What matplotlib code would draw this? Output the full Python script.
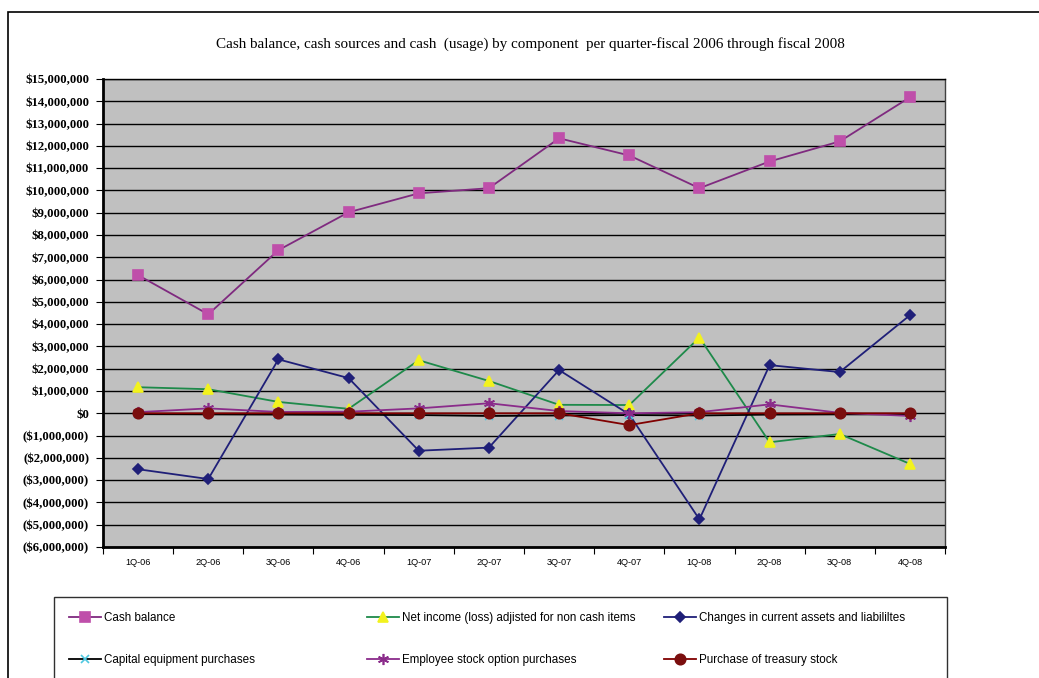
"""
Quarterly cash balance and cash sources / usage by component, fiscal 2006-2008.
"""

import matplotlib
matplotlib.use("Agg")
import matplotlib.pyplot as plt
from matplotlib.patches import Rectangle
from matplotlib.ticker import FixedLocator, FuncFormatter, NullFormatter


QUARTERS = ["1Q-06", "2Q-06", "3Q-06", "4Q-06", "1Q-07", "2Q-07",
            "3Q-07", "4Q-07", "1Q-08", "2Q-08", "3Q-08", "4Q-08"]

CASH_BALANCE = [6.20e6, 4.44e6, 7.32e6, 9.02e6, 9.87e6, 10.10e6,
                12.34e6, 11.57e6, 10.10e6, 11.30e6, 12.20e6, 14.18e6]
NET_INCOME = [1.17e6, 1.08e6, 0.51e6, 0.20e6, 2.38e6, 1.45e6,
              0.38e6, 0.37e6, 3.40e6, -1.30e6, -0.93e6, -2.27e6]
CURRENT_ASSETS_LIAB = [-2.51e6, -2.95e6, 2.42e6, 1.58e6, -1.68e6, -1.54e6,
                       1.94e6, -0.05e6, -4.76e6, 2.16e6, 1.85e6, 4.40e6]
CAPITAL_EQUIPMENT = [-0.04e6, -0.05e6, -0.06e6, -0.07e6, -0.08e6, -0.12e6,
                     -0.10e6, -0.08e6, -0.10e6, -0.06e6, -0.05e6, -0.05e6]
EMPLOYEE_OPTIONS = [0.05e6, 0.22e6, 0.06e6, 0.07e6, 0.22e6, 0.45e6,
                    0.10e6, 0.00e6, 0.05e6, 0.40e6, 0.02e6, -0.12e6]
TREASURY_STOCK = [0.0, 0.0, 0.0, 0.0, 0.0, 0.0,
                  0.0, -0.53e6, 0.0, 0.0, 0.0, 0.0]

TITLE = ("Cash balance, cash sources and cash  (usage) by component  "
         "per quarter-fiscal 2006 through fiscal 2008")

W, H = 1039, 678

# label, values, line colour, marker, marker face, marker edge, marker size
SERIES = [
    ("Cash balance", CASH_BALANCE, "#7F2A7F", "s", "#BF4FAA", "#BF4FAA", 7.5),
    ("Net income (loss) adjisted for non cash items", NET_INCOME, "#1E8A4A", "^", "#F2F21E", "#F2F21E", 7.5),
    ("Changes in current assets and liabililtes", CURRENT_ASSETS_LIAB, "#1F1F78", "D", "#1F1F78", "#1F1F78", 5.5),
    ("Capital equipment purchases", CAPITAL_EQUIPMENT, "#000000", "x", "#4FC8E0", "#4FC8E0", 6),
    ("Employee stock option purchases", EMPLOYEE_OPTIONS, "#8A2B8A", (6, 2, 0), "#8A2B8A", "#8A2B8A", 8),
    ("Purchase of treasury stock", TREASURY_STOCK, "#800000", "o", "#7A0E0E", "#7A0E0E", 7.5),
]


def money(v, _pos=None):
    if v < 0:
        return f"(${-v:,.0f})"
    return f"${v:,.0f}"


def px_x(x):
    return x / W


def px_y(y):
    return 1 - y / H


def main() -> None:
    fig = plt.figure(figsize=(W / 100, H / 100), dpi=100)
    fig.patch.set_facecolor("white")

    # outer chart frame, running off the right and bottom edges
    fig.patches.append(Rectangle((px_x(8), px_y(700)), px_x(1060), px_y(12) - px_y(700),
                                 transform=fig.transFigure, fill=False,
                                 edgecolor="black", linewidth=1.2))

    ax = fig.add_axes([px_x(103), px_y(547), px_x(945 - 103), px_y(79) - px_y(547)])
    ax.set_facecolor("#C0C0C0")

    xs = list(range(len(QUARTERS)))
    for label, vals, color, marker, mfc, mec, ms in SERIES:
        ax.plot(xs, vals, color=color, linewidth=1.3, marker=marker,
                markerfacecolor=mfc, markeredgecolor=mec, markersize=ms,
                markeredgewidth=1.2, label=label, zorder=3)

    ax.set_xlim(-0.5, len(QUARTERS) - 0.5)
    ax.set_ylim(-6e6, 15e6)

    ax.yaxis.set_major_locator(FixedLocator([i * 1e6 for i in range(-6, 16)]))
    ax.yaxis.set_major_formatter(FuncFormatter(money))
    ax.grid(True, axis="y", color="black", linewidth=1.0, zorder=1)
    ax.set_axisbelow(True)

    ax.xaxis.set_major_locator(FixedLocator([i - 0.5 for i in range(len(QUARTERS) + 1)]))
    ax.xaxis.set_major_formatter(NullFormatter())
    ax.xaxis.set_minor_locator(FixedLocator(xs))
    ax.set_xticklabels(QUARTERS, minor=True)
    ax.tick_params(axis="x", which="minor", length=0, pad=8, labelsize=6.6)
    ax.tick_params(axis="x", which="major", length=5, width=0.8, direction="out")
    ax.tick_params(axis="y", length=5, width=0.8, direction="out", pad=5)
    for lbl in ax.get_yticklabels():
        lbl.set_fontfamily("Liberation Serif")
        lbl.set_fontweight("bold")
        lbl.set_fontsize(9.2)
    for lbl in ax.get_xticklabels(minor=True):
        lbl.set_fontfamily("Liberation Sans")

    ax.spines["left"].set_linewidth(2.0)
    ax.spines["bottom"].set_linewidth(2.0)
    ax.spines["top"].set_linewidth(1.0)
    ax.spines["right"].set_linewidth(1.0)
    ax.spines["right"].set_color("#404040")

    fig.text(px_x(530), px_y(44), TITLE, ha="center", va="center",
             fontsize=10.9, family="Liberation Serif")

    # legend box below the plot, three columns of two entries each
    fig.patches.append(Rectangle((px_x(54), px_y(700)), px_x(947 - 54), px_y(597) - px_y(700),
                                 transform=fig.transFigure, fill=False,
                                 edgecolor="#303030", linewidth=1.0))
    handles = ax.get_lines()
    col_x = [64, 362, 659]
    for c, x0 in enumerate(col_x):
        pair = [handles[c], handles[c + 3]]
        fig.legend(pair, [h.get_label() for h in pair], loc="upper left",
                   bbox_to_anchor=(px_x(x0), px_y(607)), frameon=False,
                   prop={"family": "Liberation Sans", "size": 8.4},
                   handlelength=2.8, handletextpad=0.2, labelspacing=2.6,
                   borderaxespad=0, borderpad=0.4)

    fig.savefig("out.png", dpi=100)


if __name__ == "__main__":
    main()
